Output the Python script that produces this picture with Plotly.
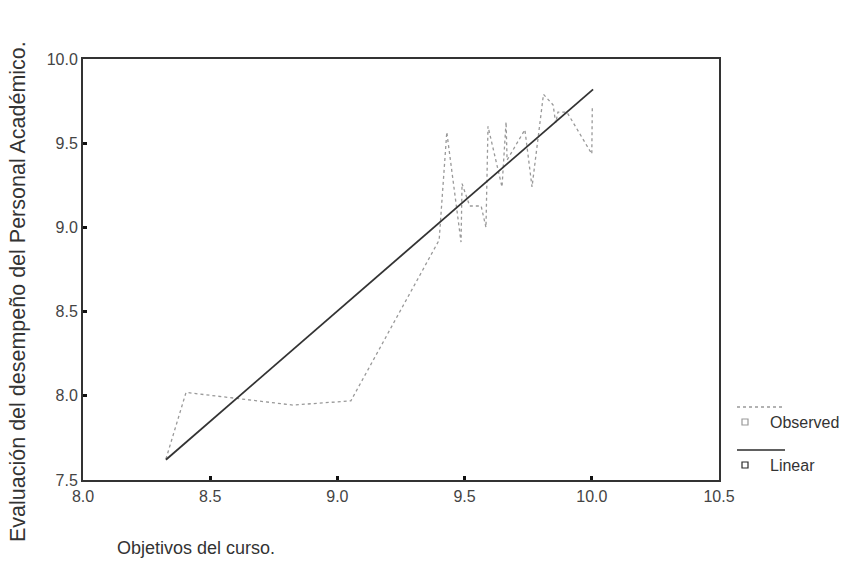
import plotly.graph_objects as go

# Observed series (Objetivos del curso vs Evaluación)
obs_x = [8.326, 8.405, 8.825, 9.053, 9.40, 9.43, 9.486, 9.49, 9.52, 9.565, 9.584, 9.592,
         9.647, 9.663, 9.667, 9.737, 9.765, 9.81, 9.848, 9.858, 9.867, 9.902, 10.0, 10.002]
obs_y = [7.625, 8.02, 7.945, 7.97, 8.925, 9.566, 8.913, 9.26, 9.127, 9.127, 9.0, 9.6,
         9.24, 9.626, 9.40, 9.58, 9.24, 9.79, 9.727, 9.62, 9.685, 9.685, 9.436, 9.715]

# Linear fit (predicted values at the ends of the observed range)
lin_x = [8.326, 10.005]
lin_y = [7.62, 9.82]

x_ticks = [8.0, 8.5, 9.0, 9.5, 10.0, 10.5]
x_tick_text = ["8.0", "8.5", "9.0", "9.5", "10.0", "10.5"]
y_ticks = [7.5, 8.0, 8.5, 9.0, 9.5, 10.0]
y_tick_text = ["7.5", "8.0", "8.5", "9.0", "9.5", "10.0"]

x_title = "Objetivos del curso."
y_title = "Evaluación del desempeño del Personal Académico."
legend_names = ["Observed", "Linear"]

FONT = "Liberation Sans, Arial, sans-serif"

fig = go.Figure()
fig.add_trace(go.Scatter(x=obs_x, y=obs_y, mode="lines", name=legend_names[0],
                         line=dict(color="#999999", width=1.3, dash="dot"),
                         showlegend=False))
fig.add_trace(go.Scatter(x=lin_x, y=lin_y, mode="lines", name=legend_names[1],
                         line=dict(color="#333333", width=1.8),
                         showlegend=False))

W, H = 842, 564
L, R, T, B = 83, 123, 59, 84

fig.update_layout(
    width=W, height=H,
    margin=dict(l=L, r=R, t=T, b=B),
    paper_bgcolor="white", plot_bgcolor="white",
    font=dict(family=FONT, color="#3a3a3a"),
    xaxis=dict(range=[8.0, 10.5], tickvals=x_ticks, ticktext=x_tick_text,
               showgrid=False, zeroline=False, showline=True, mirror=True,
               linecolor="#333333", linewidth=2, ticks="inside", ticklen=4,
               tickwidth=3, tickcolor="#111111", ticklabelstandoff=1,
               tickfont=dict(size=16, color="#444444", family=FONT)),
    yaxis=dict(range=[7.5, 10.0], tickvals=y_ticks, ticktext=y_tick_text,
               showgrid=False, zeroline=False, showline=True, mirror=True,
               linecolor="#333333", linewidth=2, ticks="inside", ticklen=4,
               tickwidth=3, tickcolor="#111111", ticklabelstandoff=0,
               tickfont=dict(size=16, color="#444444", family=FONT)),
)

# Axis titles as annotations
fig.add_annotation(text=x_title, xref="paper", yref="paper",
                   x=(115 - L) / (W - L - R), y=-(548 - (H - B)) / (H - T - B),
                   xanchor="left", yanchor="middle", showarrow=False,
                   font=dict(size=18, color="#333333", family=FONT))
fig.add_annotation(text=y_title, xref="paper", yref="paper",
                   x=-(L - 18) / (W - L - R), y=((H - B) - 292) / (H - T - B),
                   xanchor="center", yanchor="middle", textangle=-90, showarrow=False,
                   font=dict(size=21.5, color="#333333", family=FONT))

# Manual SPSS-style legend (pixel positions converted to paper coords)
def px(x):
    return (x - L) / (W - L - R)

def py(y):
    return ((H - B) - y) / (H - T - B)

legend_items = [
    dict(name=legend_names[0], line_y=407, mark_y=422, color="#999999", dash="dot", width=1.5),
    dict(name=legend_names[1], line_y=450, mark_y=465, color="#2b2b2b", dash="solid", width=1.5),
]
for it in legend_items:
    fig.add_shape(type="line", xref="paper", yref="paper",
                  x0=px(737), x1=px(785), y0=py(it["line_y"]), y1=py(it["line_y"]),
                  line=dict(color=it["color"], width=it["width"], dash=it["dash"]))
    fig.add_shape(type="rect", xref="paper", yref="paper",
                  x0=px(742), x1=px(748), y0=py(it["mark_y"] + 3), y1=py(it["mark_y"] - 3),
                  line=dict(color=it["color"], width=1.2), fillcolor="white")
    fig.add_annotation(text=it["name"], xref="paper", yref="paper",
                       x=px(768), y=py(it["mark_y"]), xanchor="left", yanchor="middle",
                       showarrow=False, font=dict(size=16, color="#333333", family=FONT))

fig.write_html("out.html")
